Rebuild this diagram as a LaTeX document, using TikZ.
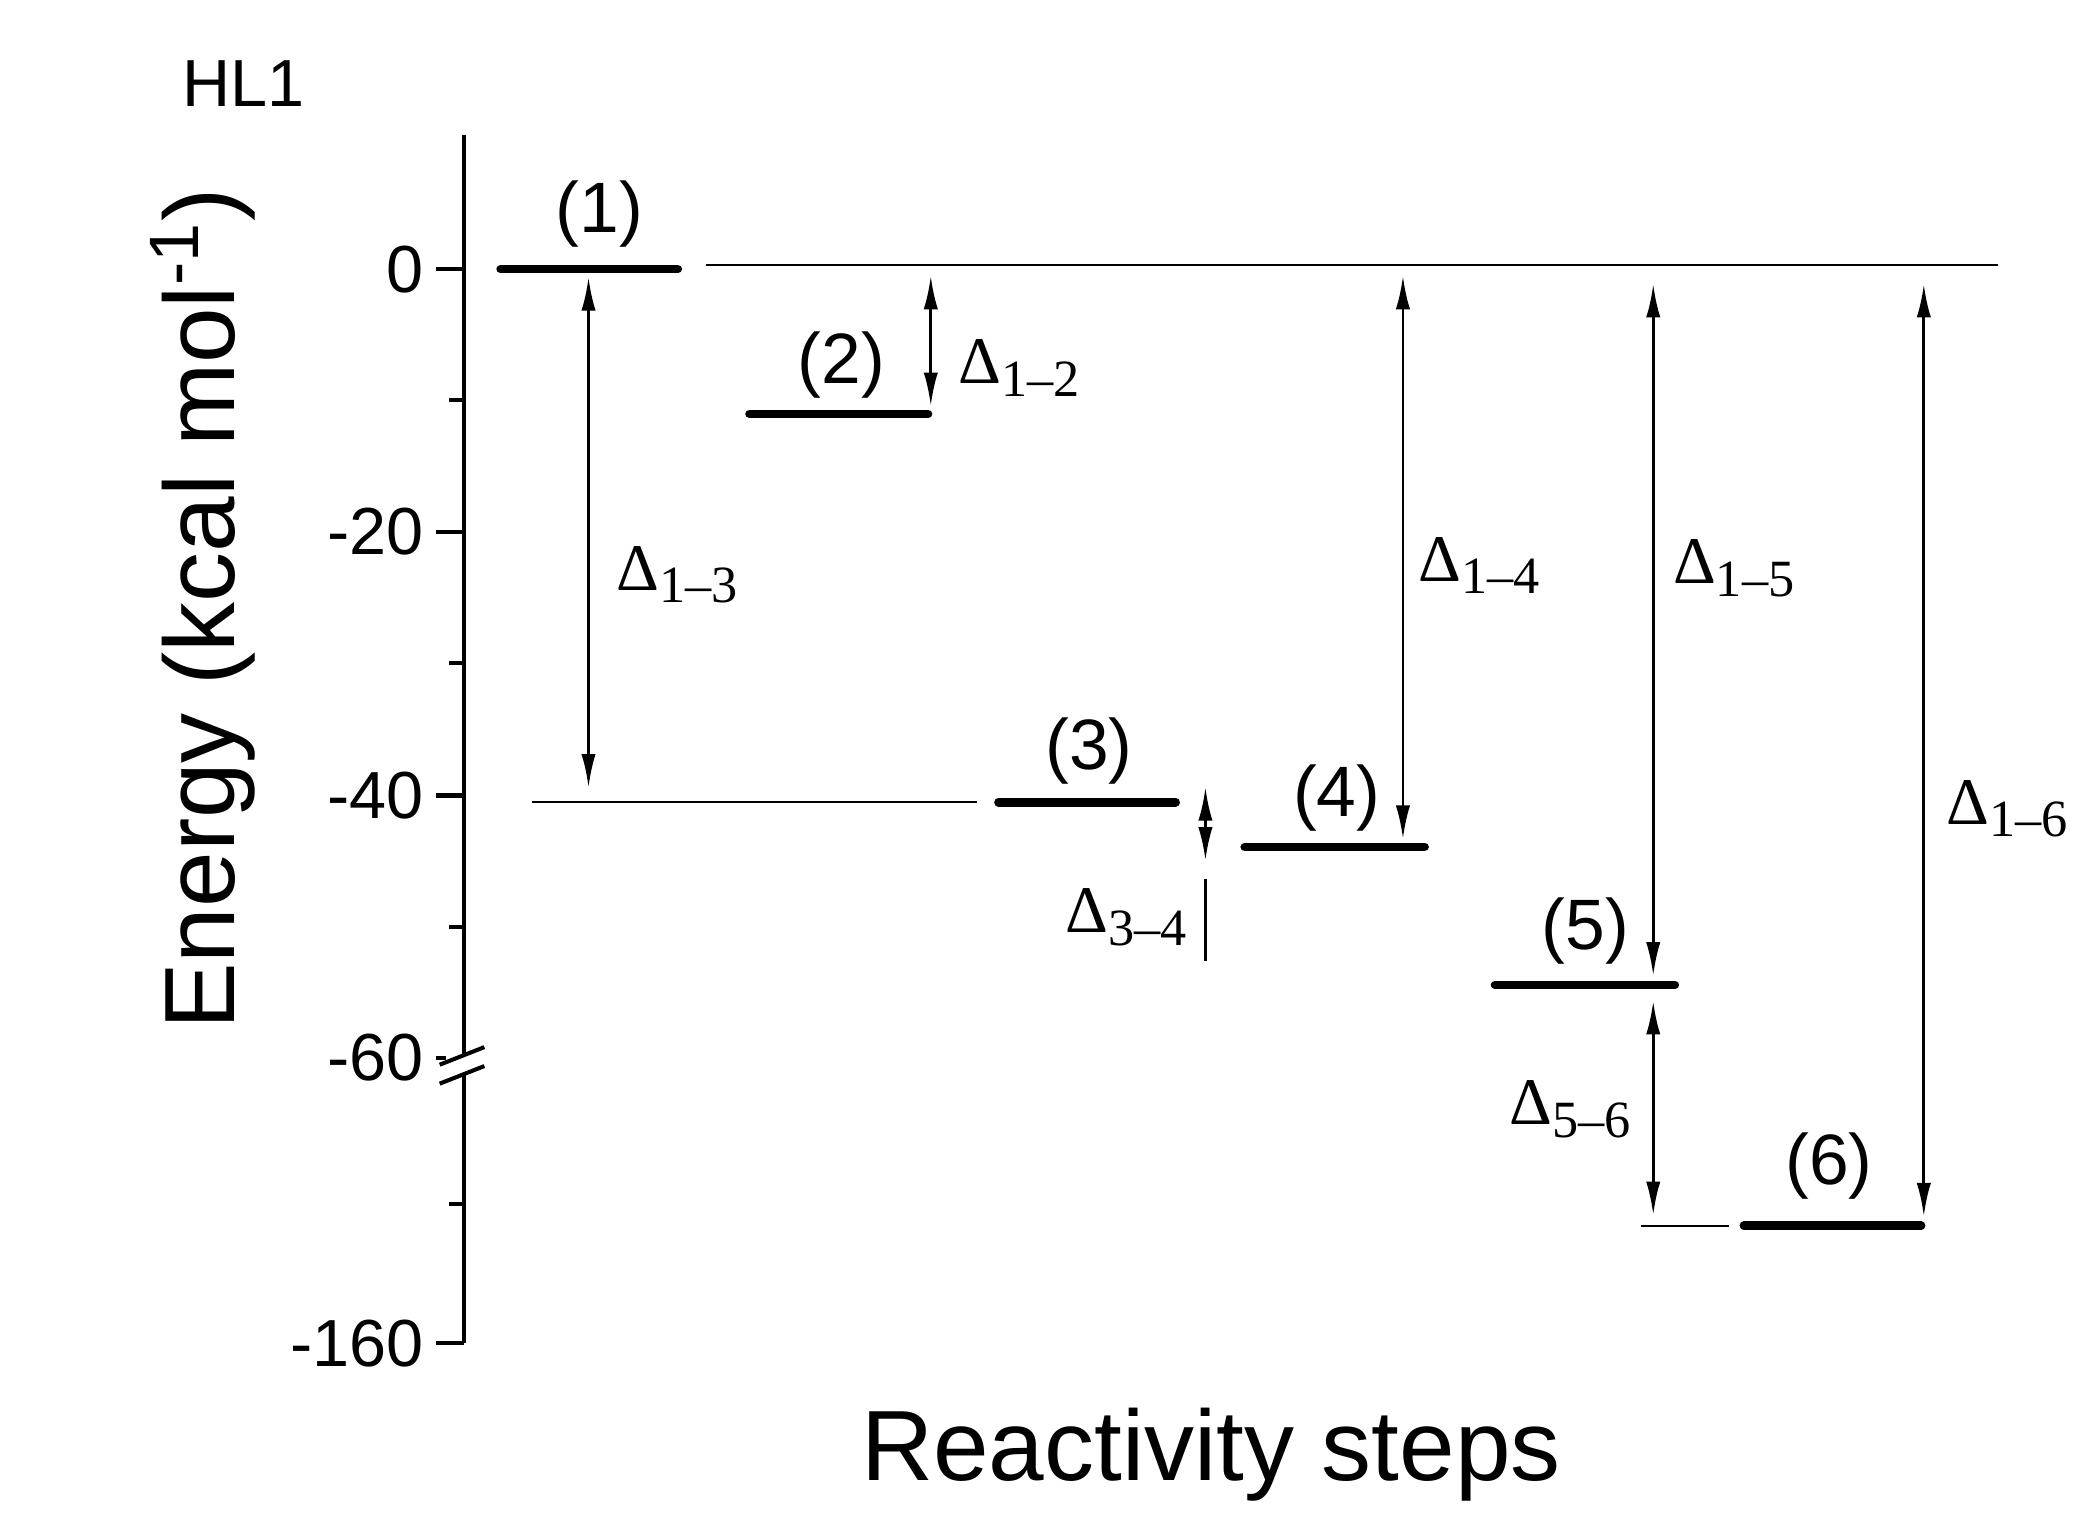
\documentclass[tikz,border=0pt]{standalone}
\usepackage{fontspec}
\setmainfont{Liberation Sans}
\newfontfamily\serifd{Liberation Serif}
\usetikzlibrary{arrows.meta}
\newcommand{\dlt}[1]{Δ\raisebox{-0.4ex}{\fontsize{11}{12}\selectfont #1}}
\begin{document}
\begin{tikzpicture}[x=0.01cm,y=-0.01cm,
  lvl/.style={line width=1.8pt,line cap=round},
  thin/.style={line width=0.45pt},
  dar/.style={line width=0.6pt,{Latex[length=7pt,width=3pt]}-{Latex[length=7pt,width=3pt]}},
  dl/.style={font=\serifd\fontsize{14}{16}\selectfont,anchor=west,inner sep=0},
  num/.style={font=\fontsize{15}{18}\selectfont,inner sep=0},
  tl/.style={font=\fontsize{14}{16}\selectfont,anchor=east,inner sep=0}]
\useasboundingbox (0,0) rectangle (1550,1131);
% axis
\draw[line width=0.85pt] (343,100) -- (343,993);
\foreach \y/\t in {199/0,393/-20,588/-40,782/-60,993/-160}{
  \draw[line width=0.85pt] (343,\y) -- (322,\y);
  \node[tl] at (314,\y) {\t};}
\foreach \y in {296,490,685,890}{\draw[line width=0.85pt] (343,\y) -- (332,\y);}
\fill[white] (330,780) rectangle (356,793);
\draw[line width=0.85pt] (325,787) -- (358,774);
\draw[line width=0.85pt] (325,801) -- (358,788);
\node[font=\fontsize{14}{16}\selectfont] (hl) at (180,62) {HL1};
\node[font=\fontsize{21}{25}\selectfont,rotate=90] (ylab) at (150,450) {Energy (kcal mol\textsuperscript{-1})};
\node[font=\fontsize{21}{25}\selectfont] (xlab) at (895,1075) {Reactivity steps};
% levels
\draw[lvl] (370,199) -- (501,199); \node[num] (n1) at (443,158) {(1)};
\draw[thin] (522,196) -- (1477,196);
\draw[lvl] (554,306) -- (686,306); \node[num] (n2) at (622,270) {(2)};
\draw[thin] (393,593) -- (722,593);
\draw[lvl] (738,593) -- (869,593); \node[num] (n3) at (805,555) {(3)};
\draw[lvl] (920,626) -- (1053,626); \node[num] (n4) at (988,590) {(4)};
\draw[lvl] (1105,728) -- (1238,728); \node[num] (n5) at (1172,688) {(5)};
\draw[thin] (1213,906) -- (1278,906);
\draw[lvl] (1289,906) -- (1420,906); \node[num] (n6) at (1352,862) {(6)};
% arrows
\draw[dar] (688,204) -- (688,300); \node[dl] at (708,272) {\dlt{1\textendash 2}};
\draw[dar] (435,205) -- (435,582); \node[dl] at (455,425) {\dlt{1\textendash 3}};
\draw[dar] (891,582) -- (891,636); \draw[line width=0.7pt] (891,650) -- (891,710);
\node[dl] at (787,678) {\dlt{3\textendash 4}};
\draw[dar] (1037,204) -- (1037,620); \node[dl] at (1048,418) {\dlt{1\textendash 4}};
\draw[dar] (1222,210) -- (1222,721); \node[dl] at (1236,420) {\dlt{1\textendash 5}};
\draw[dar] (1222,740) -- (1222,898); \node[dl] at (1115,820) {\dlt{5\textendash 6}};
\draw[dar] (1422,210) -- (1422,899); \node[dl] at (1438,598) {\dlt{1\textendash 6}};
\end{tikzpicture}
\end{document}
